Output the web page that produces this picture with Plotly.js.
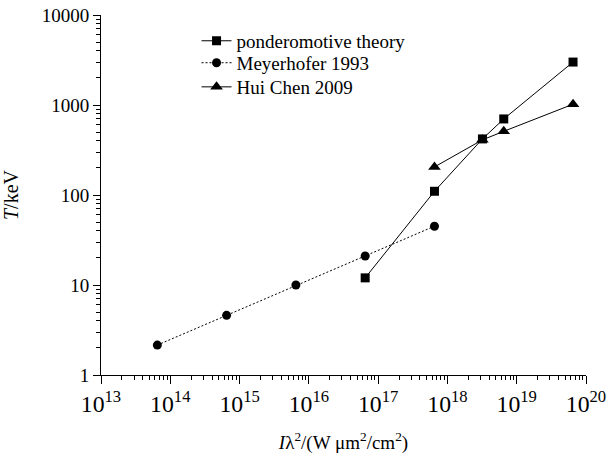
<!DOCTYPE html>
<html>
<head>
<meta charset="utf-8">
<script src="https://cdn.plot.ly/plotly-3.0.1.min.js"></script>
<style>html,body{margin:0;padding:0;background:#fff;}#chart{width:607px;height:455px;}</style>
</head>
<body>
<div id="chart"></div>
<script>
// Data
var pondX = [6.5e16, 6.5e17, 3.2e18, 6.5e18, 6.5e19];
var pondY = [12, 110, 420, 700, 3000];
var meyX = [6.5e13, 6.5e14, 6.5e15, 6.5e16, 6.5e17];
var meyY = [2.15, 4.6, 10, 21, 45];
var chenX = [6.5e17, 3.2e18, 6.5e18, 6.5e19];
var chenY = [205, 410, 510, 1020];
var seriesNames = ['ponderomotive theory', 'Meyerhofer 1993', 'Hui Chen 2009'];

var FONT = 'Liberation Serif, Times New Roman, serif';
var traces = [
  {x: pondX, y: pondY, name: seriesNames[0], mode: 'lines+markers', type: 'scatter', legend: 'legend',
   line: {color: '#000', width: 1}, marker: {symbol: 'square', size: 9, color: '#000'}},
  {x: meyX, y: meyY, name: seriesNames[1], mode: 'lines+markers', type: 'scatter', legend: 'legend2',
   line: {color: '#000', width: 1, dash: '2px,2px'}, marker: {symbol: 'circle', size: 9, color: '#000'}},
  {x: chenX, y: chenY, name: seriesNames[2], mode: 'lines+markers', type: 'scatter', legend: 'legend3',
   line: {color: '#000', width: 1}, marker: {symbol: 'triangle-up', size: 11, color: '#000'}}
];
function leg(y) {
  return {x: 0.197, y: y, xanchor: 'left', yanchor: 'middle', bgcolor: 'rgba(0,0,0,0)',
          font: {family: FONT, size: 19, color: '#000'}, itemwidth: 30};
}
var layout = {
  width: 607, height: 455,
  margin: {l: 101, r: 21, t: 15, b: 80},
  paper_bgcolor: '#fff', plot_bgcolor: '#fff',
  font: {family: FONT, size: 19, color: '#000'},
  showlegend: true,
  legend: leg(0.928), legend2: leg(0.867), legend3: leg(0.8),
  xaxis: {type: 'log', range: [13, 20], showgrid: false, zeroline: false,
          showline: true, linecolor: '#000', linewidth: 1,
          ticks: 'outside', ticklen: 8, tickcolor: '#000', tickwidth: 1,
          dtick: 1, exponentformat: 'power',
          minor: {ticks: 'outside', dtick: 'D1', ticklen: 4, tickcolor: '#000', tickwidth: 1, showgrid: false},
          title: {text: '<i>I</i>λ<sup>2</sup>/(W μm<sup>2</sup>/cm<sup>2</sup>)', font: {family: FONT, size: 19}, standoff: 20}},
  yaxis: {type: 'log', range: [0, 4], showgrid: false, zeroline: false,
          showline: true, linecolor: '#000', linewidth: 1,
          ticks: 'outside', ticklen: 7, tickcolor: '#000', tickwidth: 1,
          dtick: 1, tickformat: 'd',
          minor: {ticks: 'outside', dtick: 'D1', ticklen: 4, tickcolor: '#000', tickwidth: 1, showgrid: false},
          title: {text: '<i>T</i>/keV', font: {family: FONT, size: 20}, standoff: 18}}
};
Plotly.newPlot('chart', traces, layout, {displayModeBar: false, staticPlot: true});
</script>
</body>
</html>
